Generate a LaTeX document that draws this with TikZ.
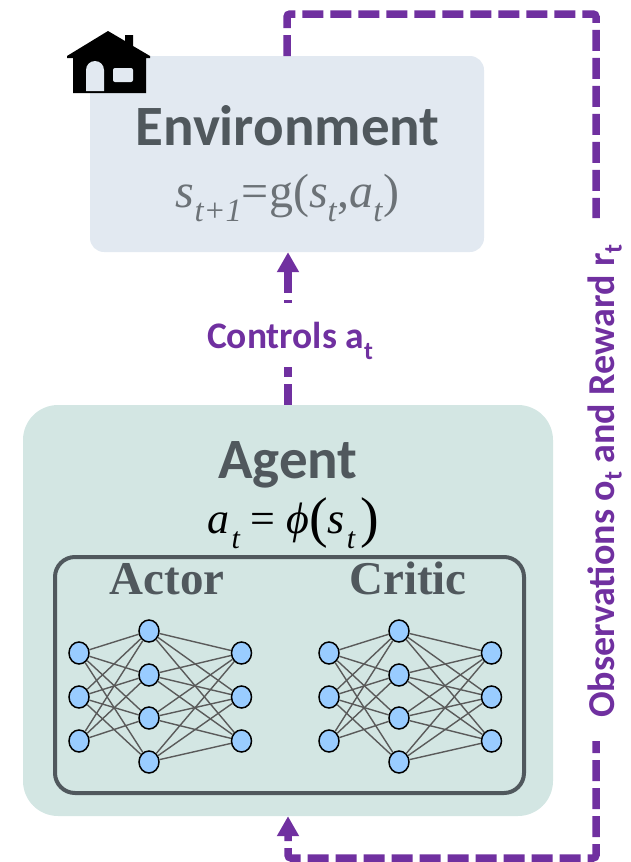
\documentclass[tikz,border=0pt]{standalone}
\usepackage{fontspec}
\setmainfont{Liberation Serif}
\newfontfamily\calfont{Carlito}
\usetikzlibrary{arrows.meta,shapes.geometric}
\definecolor{purp}{HTML}{7030A0}
\definecolor{slate}{HTML}{50585D}
\definecolor{formgray}{HTML}{6C7277}
\definecolor{envfill}{HTML}{E2E9F1}
\definecolor{agentfill}{HTML}{D3E6E3}
\definecolor{nnfill}{HTML}{99CCFF}
\definecolor{edgegray}{HTML}{5A5A5A}
\newcommand{\lowered}[2][0.3em]{\raisebox{-#1}{\fontsize{0.68em}{0.68em}\selectfont #2}}
\tikzset{
  flow/.style={draw=purp,line width=7.5pt,dash pattern=on 21pt off 7pt},
  headtip/.style={-{Triangle[width=21pt,length=20pt,fill=purp]}},
  neuron/.style={ellipse,draw=black,line width=1.5pt,fill=nnfill,minimum width=20pt,minimum height=22pt,inner sep=0pt},
  nnedge/.style={draw=edgegray,line width=1.4pt},
  title/.style={anchor=base,font=\calfont\bfseries\fontsize{57}{57}\selectfont,text=slate,inner sep=0pt},
  nettitle/.style={anchor=base,font=\bfseries\fontsize{47}{47}\selectfont,text=slate,inner sep=0pt},
  purplabel/.style={font=\calfont\bfseries\fontsize{37.5}{37.5}\selectfont,text=purp,inner sep=0pt}
}
\begin{document}
\begin{tikzpicture}[x=1pt,y=-1pt]
\useasboundingbox (0,0) rectangle (631,862);
% panels
\node[fill=envfill,rounded corners=14pt,minimum width=394pt,minimum height=196pt,inner sep=0pt] (env) at (287,154) {};
\node[fill=agentfill,rounded corners=35pt,minimum width=530pt,minimum height=411pt,inner sep=0pt] (agent) at (288,610.5) {};
\node[draw=slate,line width=4pt,rounded corners=20pt,minimum width=469pt,minimum height=236pt,inner sep=0pt] (net) at (289.5,675) {};
% feedback connectors
\coordinate (c1) at (287,14);
\coordinate (c2) at (596,14);
\coordinate (obsEndTop) at (596,218);
\coordinate (obsStart) at (596,741);
\coordinate (c3) at (596,858);
\coordinate (c4) at (288,858);
\draw[flow,rounded corners=3pt] (287,56) -- (c1) -- (c2) -- (obsEndTop);
\draw[flow,dash phase=9pt,rounded corners=3pt,headtip] (obsStart) -- (c3) -- (c4) -- (agent.south -| c4);
\draw[flow,headtip] (agent.north) -- (env.south -| agent.north);
% labels
\node[purplabel,fill=white,minimum width=170pt,minimum height=64pt] (ctrlbg) at (288,335) {};
\node[purplabel,anchor=base] (ctrl) at (290,348) {Controls a\lowered{t}};
\node[purplabel,rotate=90,anchor=base,font=\calfont\bfseries\fontsize{38}{38}\selectfont] (obs) at (614,481) {Observations o\lowered[0.2em]{t} and Reward r\lowered[0.2em]{t}};
% house
\fill[black] (108,31) -- (125,41) -- (125,35) -- (133,35) -- (133,46) -- (150,56) -- (150,58) -- (146,58) -- (146,93) -- (73,93) -- (73,58) -- (67,58) -- (67,56) -- cycle;
\fill[envfill] (86,91) -- (86,70) arc[start angle=180,end angle=0,radius=9pt] -- (104,91) -- cycle;
\fill[envfill,rounded corners=2pt] (113,68) rectangle (133,82);
% titles
\node[title] (envtitle) at (287.5,145) {Environment};
\node[anchor=base,inner sep=0pt,text=formgray,font=\fontsize{48}{48}\selectfont] (envform) at (287.5,207) {\textit{s}\lowered{\textit{t+1}}=g(\textit{s}\lowered{\textit{t}},\textit{a}\lowered{\textit{t}})};
\node[title] (agenttitle) at (288,478) {Agent};
\node[anchor=base,inner sep=0pt,text=black,font=\fontsize{44}{44}\selectfont] (agentform) at (293.5,533) {\textit{a}\hspace{2pt}\lowered[0.35em]{\textit{t}}\hspace{10pt}=\hspace{11pt}\textit{ϕ}\raisebox{-0.08em}{\fontsize{56}{56}\selectfont(}\textit{s}\hspace{2pt}\lowered[0.35em]{\textit{t}}\hspace{5pt}\raisebox{-0.08em}{\fontsize{56}{56}\selectfont)}};
\node[nettitle] (actor) at (167,594) {Actor};
\node[nettitle] (critic) at (408,594) {Critic};
% networks
\foreach \n/\dx in {p/0,q/250}{
  \foreach \i/\yy in {1/653,2/697,3/741}{
    \node[neuron] (\n i\i) at (79+\dx,\yy) {};
    \node[neuron] (\n o\i) at (241.5+\dx,\yy) {};
  }
  \foreach \i/\yy in {1/631,2/675,3/718,4/762}{
    \node[neuron] (\n h\i) at (149+\dx,\yy) {};
  }
  \foreach \h in {1,2,3,4}{
    \foreach \k in {1,2,3}{
      \draw[nnedge] (\n h\h) -- (\n o\k);
    }
  }
  \foreach \a/\b in {1/1,1/2,1/3,1/4,2/1,2/2,2/3,2/4,3/1,3/2,3/3}{
    \draw[nnedge] (\n i\a) -- (\n h\b);
  }
}
\end{tikzpicture}
\end{document}
